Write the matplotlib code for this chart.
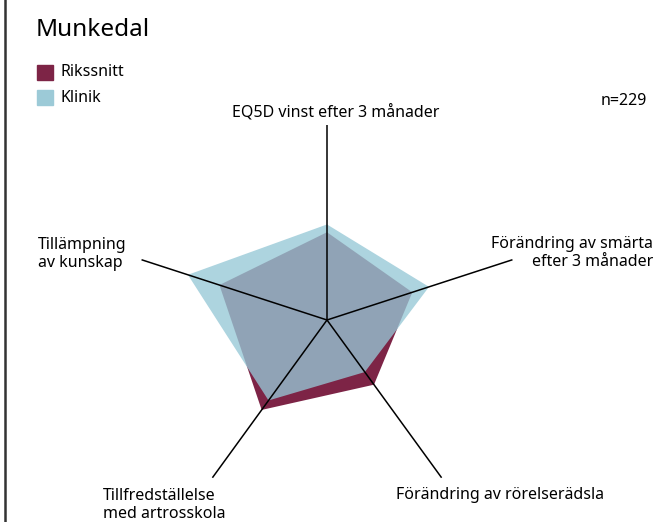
import numpy as np
import matplotlib.pyplot as plt

# axes, clockwise from the top
categories = ["EQ5D vinst efter 3 månader",
              "Förändring av smärta\nefter 3 månader",
              "Förändring av rörelserädsla",
              "Tillfredställelse\nmed artrosskola",
              "Tillämpning\nav kunskap"]
rikssnitt = [0.45, 0.46, 0.41, 0.57, 0.58]
klinik = [0.49, 0.55, 0.33, 0.51, 0.75]
series_names = ["Rikssnitt", "Klinik"]
title = "Munkedal"
n_text = "n=229"

maroon = "#7d2446"
blue = "#9ccad7"

plt.rcParams['font.family'] = ['Noto Sans', 'DejaVu Sans']

W, H = 658, 522
fig = plt.figure(figsize=(W / 100, H / 100), dpi=100)

# polar axes: centre at (327, 320) px, radius 195 px
cx, cy, R = 327, 320, 195
ax = fig.add_axes([(cx - R) / W, (H - cy - R) / H, 2 * R / W, 2 * R / H], polar=True)
ax.set_theta_offset(np.pi / 2)
ax.set_theta_direction(-1)
ax.set_ylim(0, 1)
ax.grid(False)
ax.set_xticks([])
ax.set_yticks([])
ax.spines['polar'].set_visible(False)
ax.patch.set_alpha(0)

theta = np.linspace(0, 2 * np.pi, len(categories), endpoint=False)
th = np.append(theta, theta[0])
ax.fill(th, np.append(rikssnitt, rikssnitt[0]), color=maroon, lw=0, zorder=1)
ax.fill(th, np.append(klinik, klinik[0]), color="#96c8d6", alpha=0.78, lw=0, zorder=2)
for t in theta:
    ax.plot([t, t], [0, 1], color="black", lw=1.1, zorder=3)


def px(x, y):
    return x / W, 1 - y / H


fs = 11.5
fig.text(*px(36, 30), title, fontsize=17.5, va="center", ha="left")
fig.patches.append(plt.Rectangle(px(37, 80), 16 / W, 15 / H, color=maroon, transform=fig.transFigure))
fig.patches.append(plt.Rectangle(px(37, 105), 16 / W, 15 / H, color=blue, transform=fig.transFigure))
fig.text(*px(60, 72), series_names[0], fontsize=fs, va="center")
fig.text(*px(60, 98), series_names[1], fontsize=fs, va="center")
fig.text(*px(647, 101), n_text, fontsize=fs, va="center", ha="right")

fig.text(*px(336, 112), categories[0], fontsize=fs, va="center", ha="center")
fig.text(*px(653, 253), categories[1], fontsize=fs, va="center", ha="right", linespacing=1.2)
fig.text(*px(396, 495), categories[2], fontsize=fs, va="center", ha="left")
fig.text(*px(103, 505), categories[3], fontsize=fs, va="center", ha="left", linespacing=1.2)
fig.text(*px(38, 254), categories[4], fontsize=fs, va="center", ha="left", linespacing=1.2)

# left border line
fig.add_artist(plt.Line2D([4.5 / W, 4.5 / W], [0, 1], color="#333333", lw=1.8, transform=fig.transFigure))

fig.savefig("out.png", dpi=100)
